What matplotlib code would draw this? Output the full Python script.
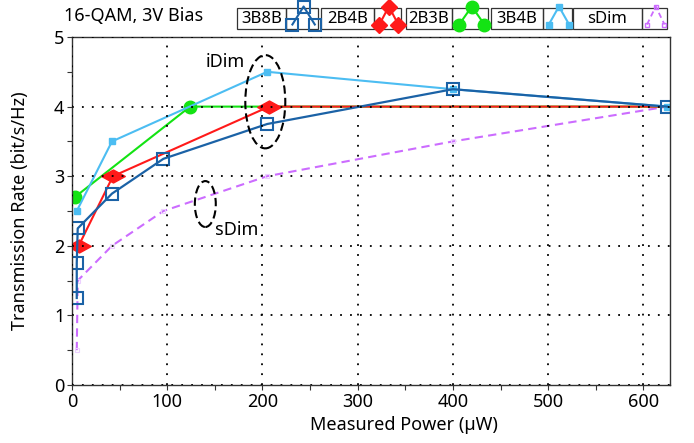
import matplotlib
matplotlib.use("Agg")
import matplotlib.pyplot as plt
from matplotlib.patches import Ellipse, Rectangle
from matplotlib.path import Path
from matplotlib.ticker import MultipleLocator

plt.rcParams["font.family"] = ["Noto Sans", "DejaVu Sans"]
plt.rcParams["font.size"] = 13

# measured power (uW) vs transmission rate (bit/s/Hz)
p_3b8b = [5, 5, 6, 42, 96, 205, 400, 625]
r_3b8b = [1.25, 1.75, 2.25, 2.75, 3.25, 3.75, 4.25, 4.0]

p_2b4b = [7, 43, 207, 625]
r_2b4b = [2.0, 3.0, 4.0, 4.0]

p_2b3b = [3, 124, 625]
r_2b3b = [2.7, 4.0, 4.0]

p_3b4b = [5, 42, 205, 400, 625]
r_3b4b = [2.5, 3.5, 4.5, 4.25, 4.0]

p_sdim = [5, 6, 42, 96, 205, 400, 625]
r_sdim = [0.5, 1.5, 2.0, 2.5, 3.0, 3.5, 4.0]

legend_names = ["3B8B", "2B4B", "2B3B", "3B4B", "sDim"]

c_3b8b = "#1b62a6"
c_2b4b = "#ff1a1a"
c_2b3b = "#13e313"
c_3b4b = "#4cbdf2"
c_sdim = "#cc6cff"

# flattened diamond
flat_diamond = Path([(-1, 0), (0, 0.55), (1, 0), (0, -0.55), (-1, 0)],
                    [Path.MOVETO, Path.LINETO, Path.LINETO, Path.LINETO, Path.CLOSEPOLY])

fig = plt.figure(figsize=(6.94, 4.43), dpi=100)
ax = fig.add_axes([72 / 694, 1 - 385 / 443, 598 / 694, 348 / 443])

ax.plot(p_sdim, r_sdim, color=c_sdim, lw=1.5, ls=(0, (4, 2.5)), marker="s", ms=3,
        mfc="none", mec="#ecd0ff", mew=0.8, zorder=2.0)
ax.plot(p_2b3b, r_2b3b, color=c_2b3b, lw=1.5, marker="o", ms=9, markevery=[0, 1],
        zorder=2.1)
ax.plot(p_2b4b, r_2b4b, color=c_2b4b, lw=1.5, marker=flat_diamond, ms=17,
        markevery=[0, 1, 2], mec=c_2b4b, zorder=2.2)
ax.plot(p_3b4b, r_3b4b, color=c_3b4b, lw=1.5, marker="s", ms=5, zorder=2.3)
ax.plot(p_3b8b, r_3b8b, color=c_3b8b, lw=1.6, marker="s", ms=8.5, mfc="none",
        mew=1.5, zorder=2.4)

# dimming regions
ax.add_patch(Ellipse((203, 4.07), 42, 1.34, fill=False, ls=(0, (4, 2)), lw=1.5,
                     color="k", zorder=2.45))
ax.add_patch(Ellipse((140, 2.6), 22, 0.66, fill=False, ls=(0, (4, 2)), lw=1.5,
                     color="k", zorder=2.45))
ax.text(161, 4.64, "iDim", ha="center", va="center")
ax.text(173, 2.23, "sDim", ha="center", va="center")

ax.set_xlim(0, 628)
ax.set_ylim(0, 5)
ax.xaxis.set_major_locator(MultipleLocator(100))
ax.xaxis.set_minor_locator(MultipleLocator(50))
ax.yaxis.set_major_locator(MultipleLocator(1))
ax.yaxis.set_minor_locator(MultipleLocator(0.5))
ax.tick_params(which="both", direction="out", length=3.5, width=0.8, color="#333333",
               top=False, right=False, pad=2)
ax.set_axisbelow(False)
ax.grid(True, which="major", color="k", ls=(0, (1, 4.5)), lw=1.3)
for s in ax.spines.values():
    s.set_color("#333333")
    s.set_linewidth(1.0)

ax.set_xlabel("Measured Power (µW)")
ax.xaxis.set_label_coords((404 - 72) / 598, -0.09)
ax.set_ylabel("Transmission Rate (bit/s/Hz)")
ax.yaxis.set_label_coords(-0.072, 0.5)

# header: title and boxed legend, in pixel coordinates
top = fig.add_axes([0, 0, 1, 1], zorder=5)
top.set_xlim(0, 694)
top.set_ylim(443, 0)
top.axis("off")
top.patch.set_alpha(0)

top.text(134, 16, "16-QAM, 3V Bias", ha="center", va="center")

boxes = [(237, 286, 318), (321, 374, 401), (406, 452, 488), (491, 543, 572), (573, 642, 667)]
icon_styles = [
    dict(color=c_3b8b, lw=1.5, marker="s", ms=8, mfc="none", mew=1.5),
    dict(color=c_2b4b, lw=1.5, marker="D", ms=8, mec=c_2b4b),
    dict(color=c_2b3b, lw=1.5, marker="o", ms=9),
    dict(color=c_3b4b, lw=1.5, marker="s", ms=5),
    dict(color=c_sdim, lw=1.3, ls=(0, (3, 2)), marker="s", ms=3, mfc="none", mec=c_sdim),
]
for name, (x0, x1, x2), st in zip(legend_names, boxes, icon_styles):
    top.add_patch(Rectangle((x0, 8), x1 - x0, 21, fill=False, ec="#333333", lw=0.9))
    top.add_patch(Rectangle((x1, 8), x2 - x1, 21, fill=False, ec="#333333", lw=0.9))
    top.text((x0 + x1) / 2, 18.5, name, ha="center", va="center", fontsize=12)
    w = x2 - x1
    top.plot([x1 + 0.2 * w, x1 + 0.55 * w, x1 + 0.9 * w], [24.5, 6.5, 24.5], **st)

fig.savefig("out.png", dpi=100)
